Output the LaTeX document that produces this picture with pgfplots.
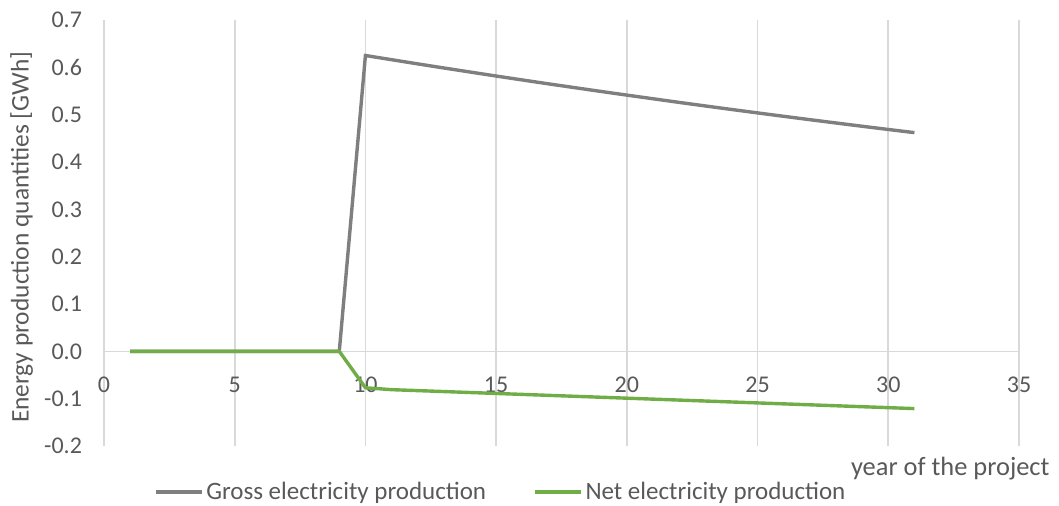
\documentclass[border=0pt]{standalone}
\usepackage{pgfplots}
\pgfplotsset{compat=1.18}
\usepackage{fontspec}
\setmainfont{Carlito}
\definecolor{txt}{HTML}{595959}
\definecolor{grossc}{HTML}{7F7F7F}
\definecolor{netc}{HTML}{70AD47}
\definecolor{gridc}{HTML}{D9D9D9}
\begin{document}
\begin{tikzpicture}
\path[use as bounding box] (-52pt,-30pt) rectangle (477.5pt,223pt);
\begin{axis}[
  at={(0,0)}, anchor=south west,
  scale only axis, width=457.5pt, height=213pt,
  xmin=0, xmax=35, ymin=-0.2, ymax=0.7,
  axis x line*=middle, axis y line*=left,
  hide obscured x ticks=false,
  x axis line style={draw=gridc, line width=0.8pt},
  y axis line style={draw=gridc, line width=0.8pt},
  xtick={0,5,...,35},
  ytick={-0.2,-0.1,0,0.1,0.2,0.3,0.4,0.5,0.6,0.7},
  yticklabels={-0.2,-0.1,0.0,0.1,0.2,0.3,0.4,0.5,0.6,0.7},
  major tick length=0pt,
  xmajorgrids=true,
  major grid style={draw=gridc, line width=0.8pt},
  /pgf/number format/assume math mode=true,
  tick label style={font=\fontsize{12}{14}\selectfont, text=txt},
  xticklabel style={yshift=-9.5pt},
  yticklabel style={anchor=east, xshift=-7.5pt},
  xlabel={year of the project},
  xlabel style={at={(axis description cs:1.041,-0.052)}, anchor=east, font=\fontsize{13.2}{16}\selectfont, text=txt},
  ylabel={Energy production quantities [GWh]},
  ylabel style={at={(axis description cs:-0.09,0.49)}, anchor=center, font=\fontsize{12.7}{15}\selectfont, text=txt},
  legend columns=2,
  legend style={at={(axis description cs:0.434,-0.108)}, anchor=center, draw=none, fill=none,
    font=\fontsize{12.5}{15}\selectfont, text=txt,
    nodes={inner xsep=1.5pt},
    /tikz/every even column/.append style={column sep=22pt}},
  legend image code/.code={\draw[#1] (0pt,0pt) -- (23pt,0pt);},
  clip=false,
]
\addplot[grossc, line width=1.7pt] coordinates {
(1,0) (2,0) (3,0) (4,0) (5,0) (6,0) (7,0) (8,0) (9,0)
(10,0.625) (11,0.6161) (12,0.6073) (13,0.5986) (14,0.5901) (15,0.5816)
(16,0.5733) (17,0.5651) (18,0.5571) (19,0.5491) (20,0.5413) (21,0.5336)
(22,0.5259) (23,0.5184) (24,0.5110) (25,0.5037) (26,0.4965) (27,0.4894)
(28,0.4824) (29,0.4755) (30,0.4687) (31,0.462)
};
\addlegendentry{Gross electricity production}
\addplot[netc, line width=1.7pt] coordinates {
(1,0) (2,0) (3,0) (4,0) (5,0) (6,0) (7,0) (8,0) (9,0)
(10,-0.077) (11,-0.081) (12,-0.083) (13,-0.085) (14,-0.087) (15,-0.089)
(16,-0.091) (17,-0.093) (18,-0.095) (19,-0.097) (20,-0.099) (21,-0.101)
(22,-0.103) (23,-0.105) (24,-0.107) (25,-0.109) (26,-0.111) (27,-0.113)
(28,-0.115) (29,-0.117) (30,-0.119) (31,-0.121)
};
\addlegendentry{Net electricity production}
\end{axis}
\end{tikzpicture}
\end{document}
